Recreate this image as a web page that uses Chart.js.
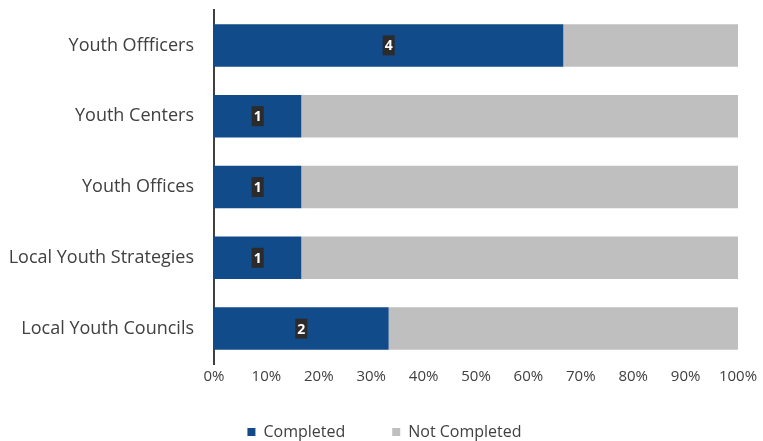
<!DOCTYPE html>
<html>
<head>
<meta charset="utf-8">
<script src="https://cdn.jsdelivr.net/npm/chart.js@4"></script>
<style>
  html, body { margin: 0; padding: 0; background: #fff; }
  #wrap { width: 763px; height: 441px; }
</style>
</head>
<body>
<div id="wrap"><canvas id="myChart"></canvas></div>
<script>
const categories = ['Youth Offficers', 'Youth Centers', 'Youth Offices', 'Local Youth Strategies', 'Local Youth Councils'];
const completed = [4, 1, 1, 1, 2];
const notCompleted = [2, 5, 5, 5, 4];
const xTicks = [0, 10, 20, 30, 40, 50, 60, 70, 80, 90, 100];

const toPercent = (arr) => arr.map((v, i) => v / (completed[i] + notCompleted[i]) * 100);

// small dark tag with the count, centred on each completed segment
const countTags = {
  id: 'countTags',
  afterDatasetsDraw(chart) {
    const { ctx } = chart;
    const meta = chart.getDatasetMeta(0);
    ctx.save();
    ctx.font = 'bold 14px "Open Sans"';
    ctx.textAlign = 'center';
    ctx.textBaseline = 'middle';
    meta.data.forEach((bar, i) => {
      const x = (bar.x + bar.base) / 2;
      const y = bar.y;
      const txt = String(completed[i]);
      const w = ctx.measureText(txt).width + 4;
      ctx.fillStyle = '#2b2b2b';
      ctx.fillRect(x - w / 2, y - 10, w, 20);
      ctx.fillStyle = '#ffffff';
      ctx.fillText(txt, x, y + 1);
    });
    ctx.restore();
  }
};

// the legend keeps a wide gap between items, but sits closer to the axis
const legendLift = {
  id: 'legendLift',
  afterLayout(chart) {
    const lg = chart.legend;
    if (!lg) return;
    lg.top -= 13;
  }
};

const ctx = document.getElementById('myChart');

new Chart(ctx, {
  type: 'bar',
  data: {
    labels: categories,
    datasets: [
      {
        label: 'Completed',
        data: toPercent(completed),
        backgroundColor: '#124b89',
        categoryPercentage: 1,
        barPercentage: 0.6,
      },
      {
        label: 'Not Completed',
        data: toPercent(notCompleted),
        backgroundColor: '#bfbfbf',
        categoryPercentage: 1,
        barPercentage: 0.6,
      },
    ],
  },
  options: {
    indexAxis: 'y',
    responsive: true,
    maintainAspectRatio: false,
    animation: false,
    layout: {
      padding: { top: 10, right: 0, left: 6, bottom: 0 }
    },
    scales: {
      x: {
        stacked: true,
        min: 0,
        max: 100,
        afterBuildTicks: (axis) => { axis.ticks = xTicks.map(v => ({ value: v })); },
        afterFit: (axis) => { axis.paddingRight = 25; },
        grid: { display: false, drawTicks: false },
        border: { display: false },
        ticks: {
          color: '#404040',
          font: { family: '"Open Sans"', size: 15 },
          padding: 4,
          callback: (v) => v + '%',
        },
      },
      y: {
        stacked: true,
        grid: { display: false, drawTicks: false },
        border: { display: true, color: '#404040', width: 2 },
        ticks: {
          color: '#404040',
          font: { family: '"Open Sans"', size: 18 },
          padding: 20,
        },
        afterFit: (axis) => {
          axis.width = 208;
          axis.paddingTop = 0;
          axis.paddingBottom = 0;
        },
      },
    },
    plugins: {
      legend: {
        position: 'bottom',
        maxHeight: 51,
        labels: {
          boxWidth: 8,
          boxHeight: 8,
          padding: 47,
          color: '#404040',
          font: { family: '"Open Sans"', size: 16 },
        },
      },
      tooltip: { enabled: false },
    },
  },
  plugins: [countTags, legendLift],
});
</script>
</body>
</html>
